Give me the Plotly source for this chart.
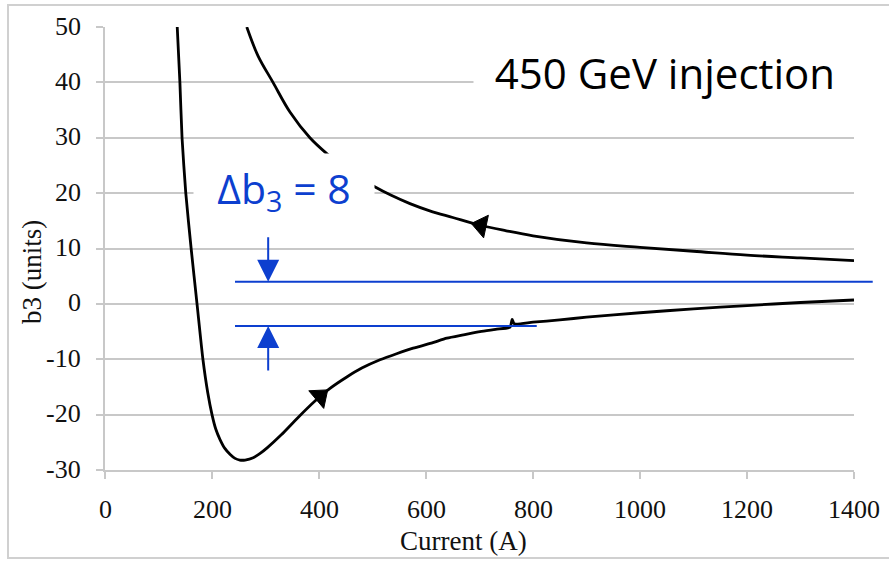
import plotly.graph_objects as go

# ---------------- data ----------------
up_current = [135, 140, 144, 151, 161, 172, 183, 192, 200, 207, 215, 224, 234, 243, 252, 262, 277,
              290, 303, 330, 360, 393, 420, 452, 480, 514, 545, 576, 610, 639, 670, 701, 730,
              757, 761, 765, 800, 850, 900, 1000, 1100, 1200, 1300, 1400]
up_b3 = [50, 40, 30, 20, 10, 0, -10, -16, -20, -22.6, -24.5, -26.1, -27.2, -27.9, -28.2, -28.2, -27.8,
         -27.0, -26.0, -23.6, -20.6, -17.5, -15.3, -13.2, -11.6, -10.1, -9.0, -8.0, -7.1, -6.2, -5.6, -5.0, -4.6,
         -4.2, -2.8, -3.6, -3.3, -2.9, -2.4, -1.6, -0.9, -0.3, 0.25, 0.7]

down_current = [265, 286, 314, 346, 383, 415, 450, 480, 505, 535, 570, 607, 650, 701, 750, 800,
                900, 1000, 1100, 1200, 1300, 1400]
down_b3 = [50, 44.8, 40, 34.6, 30, 27.1, 24.4, 22.6, 21.1, 19.6, 18.1, 16.8, 15.6, 14.2, 13.2, 12.3,
           11.0, 10.2, 9.5, 8.8, 8.3, 7.8]

# direction arrows (previous point, arrow centre) placed on the curves
arrow_up = ([380, 402], [-18.5, -16.7])
arrow_down = ([730, 703], [13.6, 14.15])

# delta b3 band
band_levels = [4, -4]
band_start = [243, 243]
band_end = [1435, 807]
band_arrow_x = 305
band_arrow_from = [12.3, -12.3]

x_range = [0, 1400]
y_range = [-30, 50]
x_ticks = [0, 200, 400, 600, 800, 1000, 1200, 1400]
x_tick_labels = ["0", "200", "400", "600", "800", "1000", "1200", "1400"]
y_ticks = [-30, -20, -10, 0, 10, 20, 30, 40, 50]
y_tick_labels = ["-30", "-20", "-10", "0", "10", "20", "30", "40", "50"]

BLUE = "#0d3fcf"
GRID = "#c8c8c8"
SERIF = "Liberation Serif"
SANS = "Open Sans"
INK = "#111111"


def px(c):
    return (c - x_range[0]) / (x_range[1] - x_range[0])


def py(v):
    return (v - y_range[0]) / (y_range[1] - y_range[0])


fig = go.Figure()
fig.add_trace(go.Scatter(x=up_current, y=up_b3, mode="lines",
                         line=dict(color="black", width=2.8, shape="spline", smoothing=0.6),
                         showlegend=False, hoverinfo="skip"))
fig.add_trace(go.Scatter(x=down_current, y=down_b3, mode="lines",
                         line=dict(color="black", width=2.8, shape="spline", smoothing=1.0),
                         showlegend=False, hoverinfo="skip"))
for ax_, ay_ in [arrow_up, arrow_down]:
    fig.add_trace(go.Scatter(x=ax_, y=ay_, mode="markers",
                             marker=dict(symbol="triangle-up", size=[0, 20], opacity=1,
                                         angleref="previous", color="#000000",
                                         line=dict(width=1, color="#000000")),
                             showlegend=False, hoverinfo="skip"))

shapes = []
# outer frame
shapes.append(dict(type="rect", xref="paper", yref="paper",
                   x0=(8 - 105) / 749, x1=1.2, y0=(470 - 558) / 443, y1=(470 - 5) / 443,
                   line=dict(color="#d0d0d0", width=2), fillcolor="rgba(0,0,0,0)", layer="below"))
for lev, s, e in zip(band_levels, band_start, band_end):
    shapes.append(dict(type="line", xref="paper", yref="paper",
                       x0=px(s), x1=px(e), y0=py(lev), y1=py(lev),
                       line=dict(color=BLUE, width=2), layer="above"))

annotations = []
# white boxed labels
annotations.append(dict(x=334, y=20.6, xref="x", yref="y", text="Δb<sub>3</sub> = 8",
                        showarrow=False, font=dict(family=SANS, size=41, color=BLUE),
                        bgcolor="white", width=180, height=72, borderpad=0,
                        xanchor="center", yanchor="middle"))
annotations.append(dict(x=1047, y=41.9, xref="x", yref="y", text="450 GeV injection",
                        showarrow=False, font=dict(family=SANS, size=42, color="black"),
                        bgcolor="white", width=382, height=76, borderpad=0,
                        xanchor="center", yanchor="middle"))
# band arrows
for lev, frm in zip(band_levels, band_arrow_from):
    annotations.append(dict(x=band_arrow_x, y=lev, ax=band_arrow_x, ay=frm,
                            xref="x", yref="y", axref="x", ayref="y", text="",
                            showarrow=True, arrowhead=2, arrowsize=2.2, arrowwidth=2,
                            arrowcolor=BLUE, standoff=0))
# tick labels (serif), positioned through the axes
for v, t in zip(x_ticks, x_tick_labels):
    annotations.append(dict(x=v, y=0, xref="x", yref="paper", text=t, showarrow=False,
                            xanchor="center", yanchor="middle", yshift=-39,
                            font=dict(family=SERIF, size=26, color=INK)))
for v, t in zip(y_ticks, y_tick_labels):
    annotations.append(dict(x=0, y=v, xref="paper", yref="y", text=t, showarrow=False,
                            xanchor="right", yanchor="middle", xshift=-22, yshift=1,
                            font=dict(family=SERIF, size=26, color=INK)))
# axis titles
annotations.append(dict(x=(463 - 105) / 749, y=(470 - 541) / 443, xref="paper", yref="paper",
                        text="Current (A)", showarrow=False,
                        font=dict(family=SERIF, size=27, color=INK),
                        xanchor="center", yanchor="middle"))
annotations.append(dict(x=(32 - 105) / 749, y=(470 - 272) / 443, xref="paper", yref="paper",
                        text="b3 (units)", showarrow=False, textangle=-90,
                        font=dict(family=SERIF, size=27, color=INK),
                        xanchor="center", yanchor="middle"))

axis_common = dict(zeroline=False, showline=True, linecolor=GRID, linewidth=1.5,
                   ticks="outside", ticklen=7, tickcolor=GRID, tickwidth=1.5,
                   showticklabels=False)

fig.update_layout(
    width=889, height=561,
    margin=dict(l=105, r=35, t=27, b=91),
    paper_bgcolor="white", plot_bgcolor="white",
    font=dict(family=SERIF, size=26, color=INK),
    shapes=shapes, annotations=annotations,
    showlegend=False,
    xaxis=dict(range=x_range, tickvals=x_ticks, showgrid=False, **axis_common),
    yaxis=dict(range=y_range, tickvals=y_ticks, showgrid=True,
               gridcolor=GRID, gridwidth=1.5, **axis_common),
)

fig.write_html("out.html")
